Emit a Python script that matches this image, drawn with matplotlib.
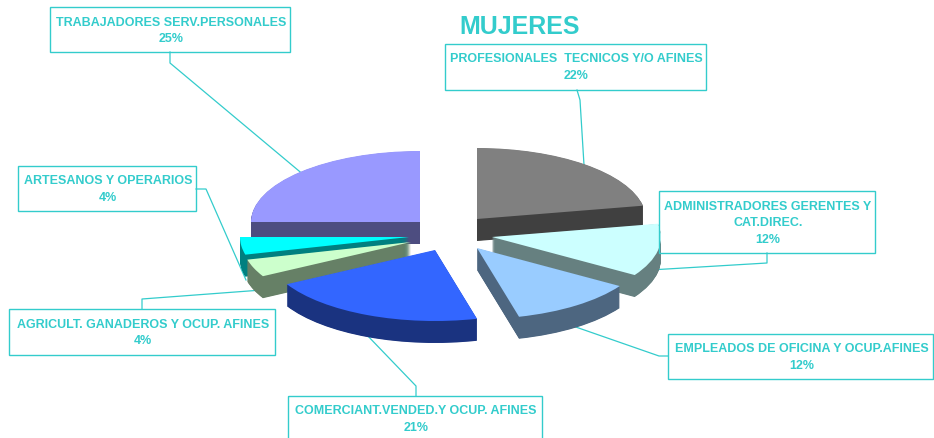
import matplotlib
matplotlib.use("Agg")
import matplotlib.pyplot as plt
from matplotlib.patches import Wedge, Rectangle
from matplotlib.transforms import Affine2D

plt.rcParams['font.family'] = ['Liberation Sans', 'DejaVu Sans']

# Chart data, clockwise from 12 o'clock
categories = ['PROFESIONALES  TECNICOS Y/O AFINES',
              'ADMINISTRADORES GERENTES Y\nCAT.DIREC.',
              'EMPLEADOS DE OFICINA Y OCUP.AFINES',
              'COMERCIANT.VENDED.Y OCUP. AFINES',
              'AGRICULT. GANADEROS Y OCUP. AFINES',
              'ARTESANOS Y OPERARIOS',
              'TRABAJADORES SERV.PERSONALES']
values = [22, 12, 12, 21, 4, 4, 25]

# Look of the slices: top colour, side colour, apex in pixels
top_colors = ['#808080', '#CCFFFF', '#99CCFF', '#3366FF', '#CCFFCC', '#00FFFF', '#9999FF']
side_colors = ['#404040', '#668080', '#4D6680', '#1A3380', '#668066', '#008080', '#4D4D80']
apex = [(477, 219), (492, 237), (477, 248), (435, 250), (411, 242), (409, 237), (420, 222)]
draw_order = [6, 0, 5, 1, 4, 2, 3]

# Label boxes: left, top, right, bottom
boxes = [(445, 44, 706, 90), (659, 191, 875, 253), (668, 334, 933, 379),
         (288, 396, 542, 445), (9, 309, 275, 355), (18, 166, 196, 211), (50, 7, 290, 52)]
leaders = [[(577, 90), (580, 100), (584, 165)],
           [(767, 253), (767, 263), (650, 270)],
           [(668, 356), (659, 356), (570, 325)],
           [(416, 396), (416, 386), (365, 333)],
           [(142, 309), (142, 299), (262, 290)],
           [(196, 189), (206, 189), (246, 280)],
           [(170, 52), (170, 63), (305, 176)]]

TEAL = '#33CCCC'
RX, RY = 169, 71
DEPTH = 22

fig = plt.figure(figsize=(9.34, 4.38), dpi=100)
ax = fig.add_axes([0, 0, 1, 1])
ax.set_xlim(0, 934)
ax.set_ylim(438, 0)
ax.axis('off')


# Elliptical slice, the y scale is negative because the axis runs downward
def add_slice(start, end, x, y, color, zorder):
    tr = Affine2D().scale(RX, -RY).translate(x, y) + ax.transData
    ax.add_patch(Wedge((0, 0), 1, 90 - end, 90 - start, facecolor=color,
                       edgecolor='none', linewidth=0, transform=tr, zorder=zorder))


for pts in leaders:
    ax.plot([p[0] for p in pts], [p[1] for p in pts], color=TEAL, lw=0.9, zorder=1)

# Cumulative angles from the values
total = sum(values)
angles = [0]
for v in values:
    angles.append(angles[-1] + v / total * 360)

z = 2
for i in draw_order:
    x, y = apex[i]
    # half pixel steps so no seams show in the side
    for d in range(DEPTH * 2, 0, -1):
        add_slice(angles[i], angles[i + 1], x, y + d / 2, side_colors[i], z)
    add_slice(angles[i], angles[i + 1], x, y, top_colors[i], z)
    z += 1

for i, box in enumerate(boxes):
    left, top, right, bottom = box
    ax.add_patch(Rectangle((left, top), right - left, bottom - top, fill=False,
                           edgecolor=TEAL, linewidth=1.0, zorder=20, clip_on=False))
    ax.text((left + right) / 2 + 1, top + 9.5, categories[i] + '\n%d%%' % values[i], color=TEAL,
            fontsize=9, fontweight='bold', ha='center', va='top', linespacing=1.52, zorder=21)

ax.text(520, 27, 'MUJERES', color=TEAL, fontsize=18, fontweight='bold', ha='center', va='center')

fig.savefig('out.png', dpi=100)
